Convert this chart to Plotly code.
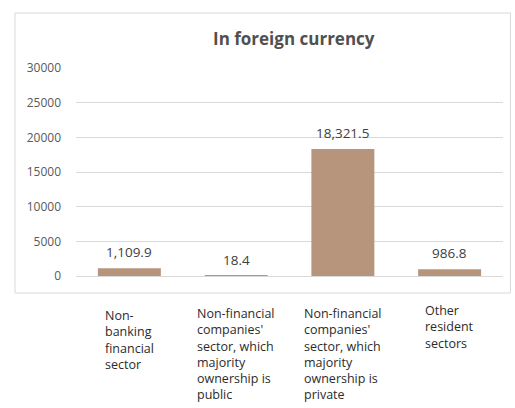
import plotly.graph_objects as go

categories = [
    "Non-<br>banking<br>financial<br>sector",
    "Non-financial<br>companies'<br>sector, which<br>majority<br>ownership is<br>public",
    "Non-financial<br>companies'<br>sector, which<br>majority<br>ownership is<br>private",
    "Other<br>resident<br>sectors",
]
values = [1109.9, 18.4, 18321.5, 986.8]
value_labels = ["1,109.9", "18.4", "18,321.5", "986.8"]
y_ticks = [0, 5000, 10000, 15000, 20000, 25000, 30000]

FONT = "'Open Sans', Lato, sans-serif"
x_idx = list(range(len(categories)))
label_offsets_px = [6, 4, 4, 1]

fig = go.Figure(
    go.Bar(
        x=x_idx,
        y=values,
        marker=dict(color="#B7957D", line=dict(width=0)),
        width=0.59,
        hoverinfo="skip",
    )
)

annotations = []
for i, (v, t) in enumerate(zip(values, value_labels)):
    annotations.append(dict(
        x=i, y=v, xref="x", yref="y", text=t, showarrow=False,
        xanchor="center", yanchor="middle", yshift=16,
        font=dict(family=FONT, size=13.5, color="#404040"),
    ))
for i, c in enumerate(categories):
    annotations.append(dict(
        x=i, y=-0.11 - label_offsets_px[i] / 208, xref="x", yref="paper",
        text=c, showarrow=False, xanchor="center", yanchor="top", align="left",
        font=dict(family=FONT, size=12.5, color="#2B2B2B"),
    ))

fig.update_layout(
    width=515, height=408,
    margin=dict(l=76, r=12, t=68, b=132),
    paper_bgcolor="white", plot_bgcolor="white",
    showlegend=False,
    title=dict(text="<b>In foreign currency</b>", x=0.51, xref="paper", xanchor="center",
               y=0.905, yanchor="middle", yref="container",
               font=dict(family=FONT, size=17, color="#505050")),
    xaxis=dict(range=[-0.5, 3.5], tickvals=x_idx, showticklabels=False,
               showgrid=False, zeroline=False, showline=False, fixedrange=True),
    yaxis=dict(range=[0, 30000], tickvals=y_ticks, ticktext=[str(v) for v in y_ticks],
               showgrid=True, gridcolor="#D9D9D9", gridwidth=1,
               zeroline=True, zerolinecolor="#D9D9D9", zerolinewidth=1,
               showline=False, ticklabelstandoff=14,
               tickfont=dict(family=FONT, size=12, color="#595959"), fixedrange=True),
    annotations=annotations,
    shapes=[dict(type="rect", xref="paper", yref="paper",
                 x0=(15 - 76) / 427, x1=(510.5 - 76) / 427,
                 y0=(276 - 293) / 208, y1=(276 - 13) / 208,
                 line=dict(color="#D9D9D9", width=1), fillcolor="rgba(0,0,0,0)",
                 layer="below")],
)

fig.write_html("out.html", config={"displayModeBar": False},
               post_script="document.body.style.margin='0';")
